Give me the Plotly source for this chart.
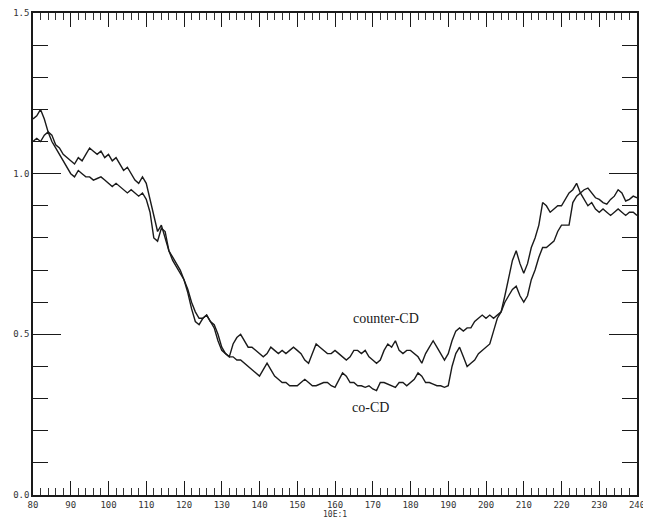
import plotly.graph_objects as go

x_vals = list(range(80, 241))

counter_cd = [
    1.17, 1.18, 1.20, 1.17, 1.13, 1.12, 1.09, 1.08, 1.06, 1.05,
    1.04, 1.03, 1.05, 1.04, 1.06, 1.08, 1.07, 1.06, 1.07, 1.05,
    1.06, 1.04, 1.05, 1.03, 1.01, 1.02, 1.00, 0.98, 0.97, 0.99,
    0.97, 0.92, 0.86, 0.82, 0.84, 0.80, 0.76, 0.73, 0.71, 0.69,
    0.67, 0.64, 0.60, 0.57, 0.55, 0.55, 0.56, 0.54, 0.53, 0.50,
    0.46, 0.44, 0.43, 0.47, 0.49, 0.50, 0.48, 0.46, 0.46, 0.45,
    0.44, 0.43, 0.44, 0.46, 0.45, 0.44, 0.45, 0.44, 0.45, 0.46,
    0.45, 0.44, 0.42, 0.41, 0.44, 0.47, 0.46, 0.45, 0.44, 0.44,
    0.45, 0.44, 0.43, 0.42, 0.43, 0.45, 0.45, 0.44, 0.45, 0.43,
    0.42, 0.41, 0.42, 0.45, 0.47, 0.46, 0.48, 0.45, 0.44, 0.45,
    0.45, 0.44, 0.43, 0.41, 0.44, 0.46, 0.48, 0.46, 0.44, 0.42,
    0.44, 0.48, 0.51, 0.52, 0.51, 0.52, 0.52, 0.54, 0.55, 0.56,
    0.55, 0.56, 0.55, 0.56, 0.57, 0.62, 0.68, 0.73, 0.76, 0.72,
    0.69, 0.72, 0.77, 0.80, 0.84, 0.91, 0.90, 0.88, 0.89, 0.90,
    0.90, 0.92, 0.94, 0.95, 0.97, 0.94, 0.92, 0.90, 0.91, 0.89,
    0.88, 0.89, 0.88, 0.87, 0.88, 0.89, 0.88, 0.87, 0.88, 0.88,
    0.87,
]

co_cd = [
    1.10, 1.11, 1.10, 1.12, 1.13, 1.10, 1.08, 1.06, 1.04, 1.02,
    1.00, 0.99, 1.01, 1.00, 0.99, 0.99, 0.98, 0.985, 0.99, 0.98,
    0.97, 0.96, 0.97, 0.96, 0.95, 0.94, 0.95, 0.94, 0.93, 0.94,
    0.92, 0.88, 0.80, 0.79, 0.83, 0.82, 0.76, 0.74, 0.72, 0.70,
    0.67, 0.63, 0.58, 0.54, 0.53, 0.55, 0.56, 0.54, 0.52, 0.48,
    0.45, 0.44, 0.43, 0.43, 0.42, 0.42, 0.41, 0.40, 0.39, 0.38,
    0.37, 0.39, 0.41, 0.39, 0.37, 0.36, 0.35, 0.35, 0.34, 0.34,
    0.34, 0.35, 0.36, 0.35, 0.34, 0.34, 0.345, 0.35, 0.35, 0.34,
    0.335, 0.36, 0.38, 0.37, 0.35, 0.35, 0.34, 0.34, 0.335, 0.34,
    0.33, 0.325, 0.35, 0.35, 0.345, 0.34, 0.335, 0.35, 0.35, 0.34,
    0.35, 0.36, 0.38, 0.37, 0.35, 0.35, 0.345, 0.34, 0.34, 0.335,
    0.34, 0.40, 0.44, 0.46, 0.43, 0.40, 0.41, 0.42, 0.44, 0.45,
    0.46, 0.47, 0.51, 0.55, 0.57, 0.60, 0.62, 0.64, 0.65, 0.62,
    0.60, 0.62, 0.67, 0.70, 0.74, 0.77, 0.77, 0.78, 0.79, 0.82,
    0.84, 0.84, 0.84, 0.91, 0.93, 0.94, 0.95, 0.955, 0.94, 0.925,
    0.92, 0.91, 0.905, 0.92, 0.93, 0.95, 0.94, 0.915, 0.92, 0.93,
    0.925,
]

x_ticks = list(range(80, 241, 10))
y_ticks = [0.0, 0.5, 1.0, 1.5]
y_tick_labels = ["0.0", "0.5", "1.0", "1.5"]

fig = go.Figure()
fig.add_trace(go.Scatter(x=x_vals, y=counter_cd, mode="lines", name="counter-CD",
                         line=dict(color="#1a1a1a", width=1.4)))
fig.add_trace(go.Scatter(x=x_vals, y=co_cd, mode="lines", name="co-CD",
                         line=dict(color="#1a1a1a", width=1.4)))

fig.add_annotation(x=173.5, y=0.55, text="counter-CD", showarrow=False,
                   font=dict(family="Liberation Serif", size=14, color="#1a1a1a"))
fig.add_annotation(x=169.5, y=0.273, text="co-CD", showarrow=False,
                   font=dict(family="Liberation Serif", size=14, color="#1a1a1a"))
fig.add_annotation(x=0.5, y=-0.026, xref="paper", yref="paper", yanchor="top",
                   text="10E:1", showarrow=False,
                   font=dict(family="DejaVu Sans Mono", size=8, color="#333"))

fig.update_layout(
    width=643, height=510,
    margin=dict(l=25, r=14, t=5, b=23),
    paper_bgcolor="white", plot_bgcolor="white",
    showlegend=False,
    font=dict(family="DejaVu Sans Mono", size=9, color="#333"),
)
fig.update_xaxes(
    range=[80, 240], tickvals=x_ticks, ticktext=[str(v) for v in x_ticks],
    showgrid=False, zeroline=False, automargin=False,
    showline=True, linecolor="#1a1a1a", linewidth=1.6, mirror="ticks",
    ticks="inside", ticklen=14, tickwidth=1.2, tickcolor="#1a1a1a",
    minor=dict(dtick=2, ticks="inside", ticklen=7, tickwidth=1, tickcolor="#333"),
    tickfont=dict(size=9, color="#333"),
)
fig.update_yaxes(
    range=[0, 1.5], tickvals=y_ticks, ticktext=y_tick_labels,
    showgrid=False, zeroline=False, automargin=False,
    showline=True, linecolor="#1a1a1a", linewidth=1.6, mirror="ticks",
    ticks="inside", ticklen=28, tickwidth=1.2, tickcolor="#1a1a1a",
    minor=dict(dtick=0.1, ticks="inside", ticklen=15, tickwidth=1.2, tickcolor="#1a1a1a"),
    tickfont=dict(size=9, color="#333"),
)

fig.write_html("out.html")
